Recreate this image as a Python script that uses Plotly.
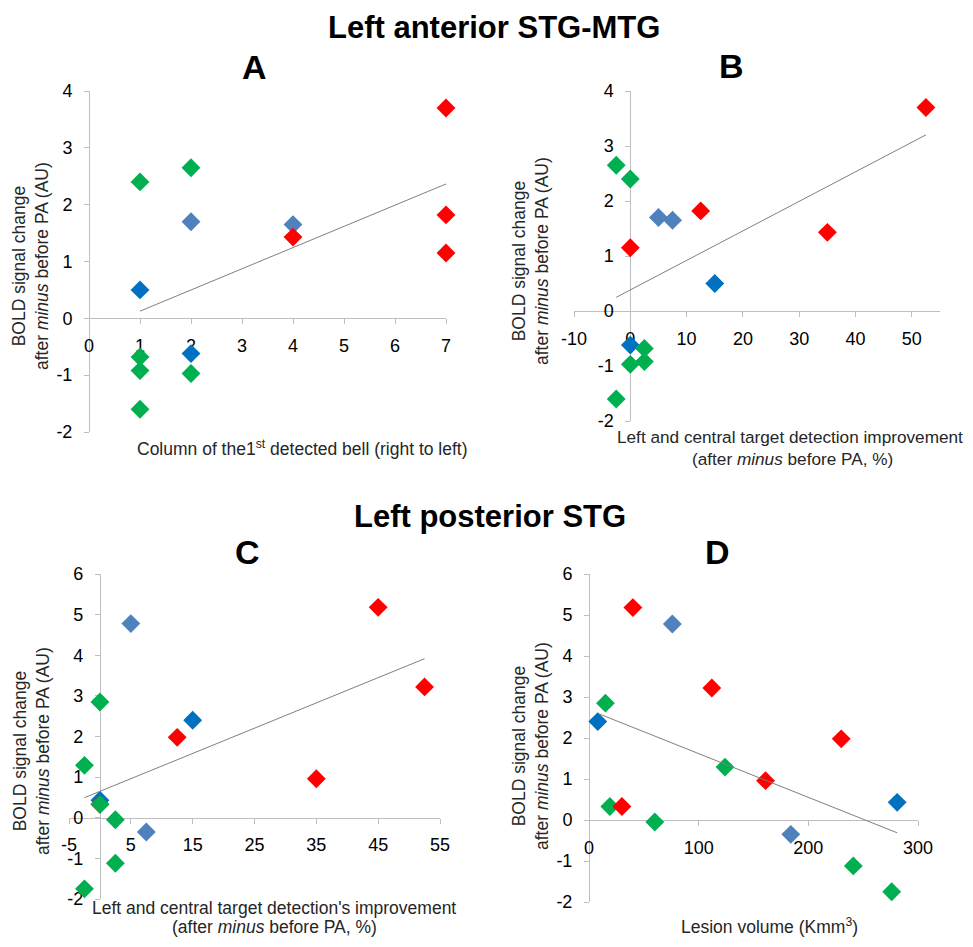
import numpy as np
import plotly.graph_objects as go

# The page body has an 8px margin; keep the figure inside the window so no
# scrollbars appear, and offset every position by OFF pixels.
OFF = 8
W, H = 973 - 2 * OFF, 947 - 2 * OFF

# ---------------- data ----------------
# Panel A: Left anterior STG-MTG vs column of 1st detected bell
A_green_x = [1, 2, 1, 1, 2, 1]
A_green_y = [2.40, 2.65, -0.68, -0.92, -0.97, -1.60]
A_dblue_x = [1, 2]
A_dblue_y = [0.50, -0.62]
A_lblue_x = [2, 4]
A_lblue_y = [1.70, 1.65]
A_red_x = [7, 4, 7, 7]
A_red_y = [3.70, 1.43, 1.82, 1.15]
A_xticks = [0, 1, 2, 3, 4, 5, 6, 7]
A_yticks = [-2, -1, 0, 1, 2, 3, 4]

# Panel B: Left anterior STG-MTG vs detection improvement (%)
B_green_x = [-2.5, 0, 0, 2.5, 2.5, -2.5]
B_green_y = [2.65, 2.40, -0.97, -0.68, -0.92, -1.60]
B_dblue_x = [0, 15]
B_dblue_y = [-0.62, 0.50]
B_lblue_x = [5, 7.5]
B_lblue_y = [1.70, 1.65]
B_red_x = [0, 12.5, 35, 52.5]
B_red_y = [1.15, 1.82, 1.43, 3.70]
B_xticks = [-10, 0, 10, 20, 30, 40, 50]
B_yticks = [-2, -1, 0, 1, 2, 3, 4]

# Panel C: Left posterior STG vs detection improvement (%)
C_green_x = [0, -2.5, 0, 2.5, 2.5, -2.5]
C_green_y = [2.85, 1.29, 0.33, -0.05, -1.12, -1.75]
C_dblue_x = [0, 15]
C_dblue_y = [0.43, 2.40]
C_lblue_x = [5, 7.5]
C_lblue_y = [4.78, -0.35]
C_red_x = [0, 12.5, 35, 45, 52.5]
C_red_y = [0.33, 1.98, 0.96, 5.18, 3.22]
C_xticks = [-5, 5, 15, 25, 35, 45, 55]
C_yticks = [-2, -1, 0, 1, 2, 3, 4, 5, 6]

# Panel D: Left posterior STG vs lesion volume (Kmm3)
D_green_x = [15, 124, 19, 60, 241, 276]
D_green_y = [2.85, 1.29, 0.33, -0.05, -1.12, -1.75]
D_dblue_x = [8, 281]
D_dblue_y = [2.40, 0.43]
D_lblue_x = [76, 184]
D_lblue_y = [4.78, -0.35]
D_red_x = [30, 40, 112, 161, 230]
D_red_y = [0.33, 5.18, 3.22, 0.96, 1.98]
D_xticks = [0, 100, 200, 300]
D_yticks = [-2, -1, 0, 1, 2, 3, 4, 5, 6]

# ---------------- styles ----------------
FONT = "Liberation Sans, Arial, sans-serif"
COL = {"lblue": "#4F81BD", "dblue": "#0070C0", "red": "#FF0000", "green": "#00B050"}
AXIS_COL = "#BFBFBF"

fig = go.Figure()


def fx(px):
    return (px - OFF) / W


def fy(py):
    return 1 - (py - OFF) / H


panels = [
    dict(idx=1,
         groups=[("lblue", A_lblue_x, A_lblue_y), ("dblue", A_dblue_x, A_dblue_y),
                 ("red", A_red_x, A_red_y), ("green", A_green_x, A_green_y)],
         xr=[0, 7], yr=[-2, 4], xpx=[89, 446], ypx=[91, 432], xt=A_xticks, yt=A_yticks),
    dict(idx=2,
         groups=[("lblue", B_lblue_x, B_lblue_y), ("dblue", B_dblue_x, B_dblue_y),
                 ("red", B_red_x, B_red_y), ("green", B_green_x, B_green_y)],
         xr=[-10, 55], yr=[-2, 4], xpx=[574, 940], ypx=[91, 421], xt=B_xticks, yt=B_yticks),
    dict(idx=3,
         groups=[("lblue", C_lblue_x, C_lblue_y), ("dblue", C_dblue_x, C_dblue_y),
                 ("red", C_red_x, C_red_y), ("green", C_green_x, C_green_y)],
         xr=[-5, 55], yr=[-2, 6], xpx=[69, 440], ypx=[574, 899], xt=C_xticks, yt=C_yticks),
    dict(idx=4,
         groups=[("lblue", D_lblue_x, D_lblue_y), ("dblue", D_dblue_x, D_dblue_y),
                 ("green", D_green_x, D_green_y), ("red", D_red_x, D_red_y)],
         xr=[0, 300], yr=[-2, 6], xpx=[589, 918], ypx=[574, 902], xt=D_xticks, yt=D_yticks),
]

layout_axes = {}
for p in panels:
    i = p["idx"]
    sfx = "" if i == 1 else str(i)
    xref, yref = "x" + sfx, "y" + sfx
    allx, ally = [], []
    for name, xs, ys in p["groups"]:
        fig.add_trace(go.Scatter(
            x=xs, y=ys, mode="markers", xaxis=xref, yaxis=yref,
            marker=dict(symbol="diamond", size=14.5, color=COL[name], line=dict(width=0)),
            cliponaxis=False, showlegend=False, hoverinfo="skip"))
        allx += list(xs)
        ally += list(ys)
    # linear trendline (least squares) through all points of the panel
    slope, icpt = np.polyfit(allx, ally, 1)
    lx = np.array([min(allx), max(allx)])
    fig.add_trace(go.Scatter(
        x=lx, y=slope * lx + icpt, mode="lines", xaxis=xref, yaxis=yref,
        line=dict(color="#7F7F7F", width=1), cliponaxis=False,
        showlegend=False, hoverinfo="skip"))

    xd = [fx(p["xpx"][0]), fx(p["xpx"][1])]
    yd = [fy(p["ypx"][1]), fy(p["ypx"][0])]
    xr, yr = p["xr"], p["yr"]
    xpos = yd[0] + (0 - yr[0]) / (yr[1] - yr[0]) * (yd[1] - yd[0])
    ypos = xd[0] + (0 - xr[0]) / (xr[1] - xr[0]) * (xd[1] - xd[0])
    common = dict(showgrid=False, zeroline=False, showline=True, linecolor=AXIS_COL,
                  linewidth=1, ticks="outside", ticklen=5, tickcolor=AXIS_COL,
                  tickfont=dict(family=FONT, size=18, color="#000000"),
                  layer="below traces", fixedrange=True, automargin=False)
    layout_axes["xaxis" + sfx] = dict(common, domain=xd, range=xr, anchor="free",
                                      position=xpos, tickmode="array", tickvals=p["xt"],
                                      ticktext=[str(v) for v in p["xt"]],
                                      ticklabelstandoff=6)
    layout_axes["yaxis" + sfx] = dict(common, domain=yd, range=yr, anchor="free",
                                      position=ypos, tickmode="array", tickvals=p["yt"],
                                      ticktext=[str(v) for v in p["yt"]],
                                      ticklabelstandoff=8)

fig.update_layout(**layout_axes)


def ann(text, x, y, size, angle=0, color="#000000"):
    return dict(text=text, x=fx(x), y=fy(y), xref="paper", yref="paper",
                showarrow=False, textangle=angle, xanchor="center", yanchor="middle",
                font=dict(family=FONT, size=size, color=color), align="center")


ytitle = "BOLD signal change<br>after <i>minus</i> before PA (AU)"
TC = "#262626"
annotations = [
    ann("<b>Left anterior STG-MTG</b>", 494, 27, 31),
    ann("<b>A</b>", 255, 67, 34),
    ann("<b>B</b>", 731, 66, 34),
    ann("<b>Left posterior STG</b>", 490, 516, 31),
    ann("<b>C</b>", 247, 552, 34),
    ann("<b>D</b>", 717, 552, 34),
    ann(ytitle, 31, 266, 17.5, -90, TC),
    ann(ytitle, 530, 261, 17.5, -90, TC),
    ann(ytitle, 31, 751, 17.5, -90, TC),
    ann(ytitle, 530, 746, 17.5, -90, TC),
    ann("Column of the1<sup>st</sup> detected bell (right to left)", 302, 448, 17.5, 0, TC),
    ann("Left and central target detection improvement", 790, 437, 17.2, 0, TC),
    ann("(after <i>minus</i> before PA, %)", 792, 459, 17.2, 0, TC),
    ann("Left and central target detection's improvement", 274, 908, 17.5, 0, TC),
    ann("(after <i>minus</i> before PA, %)", 274, 927, 17.5, 0, TC),
    ann("Lesion volume (Kmm<sup>3</sup>)", 769, 926, 17.5, 0, TC),
]

fig.update_layout(
    template="none",
    width=W, height=H, margin=dict(l=0, r=0, t=0, b=0, pad=0),
    paper_bgcolor="white", plot_bgcolor="white",
    font=dict(family=FONT), annotations=annotations, showlegend=False,
)

fig.write_html("out.html")
